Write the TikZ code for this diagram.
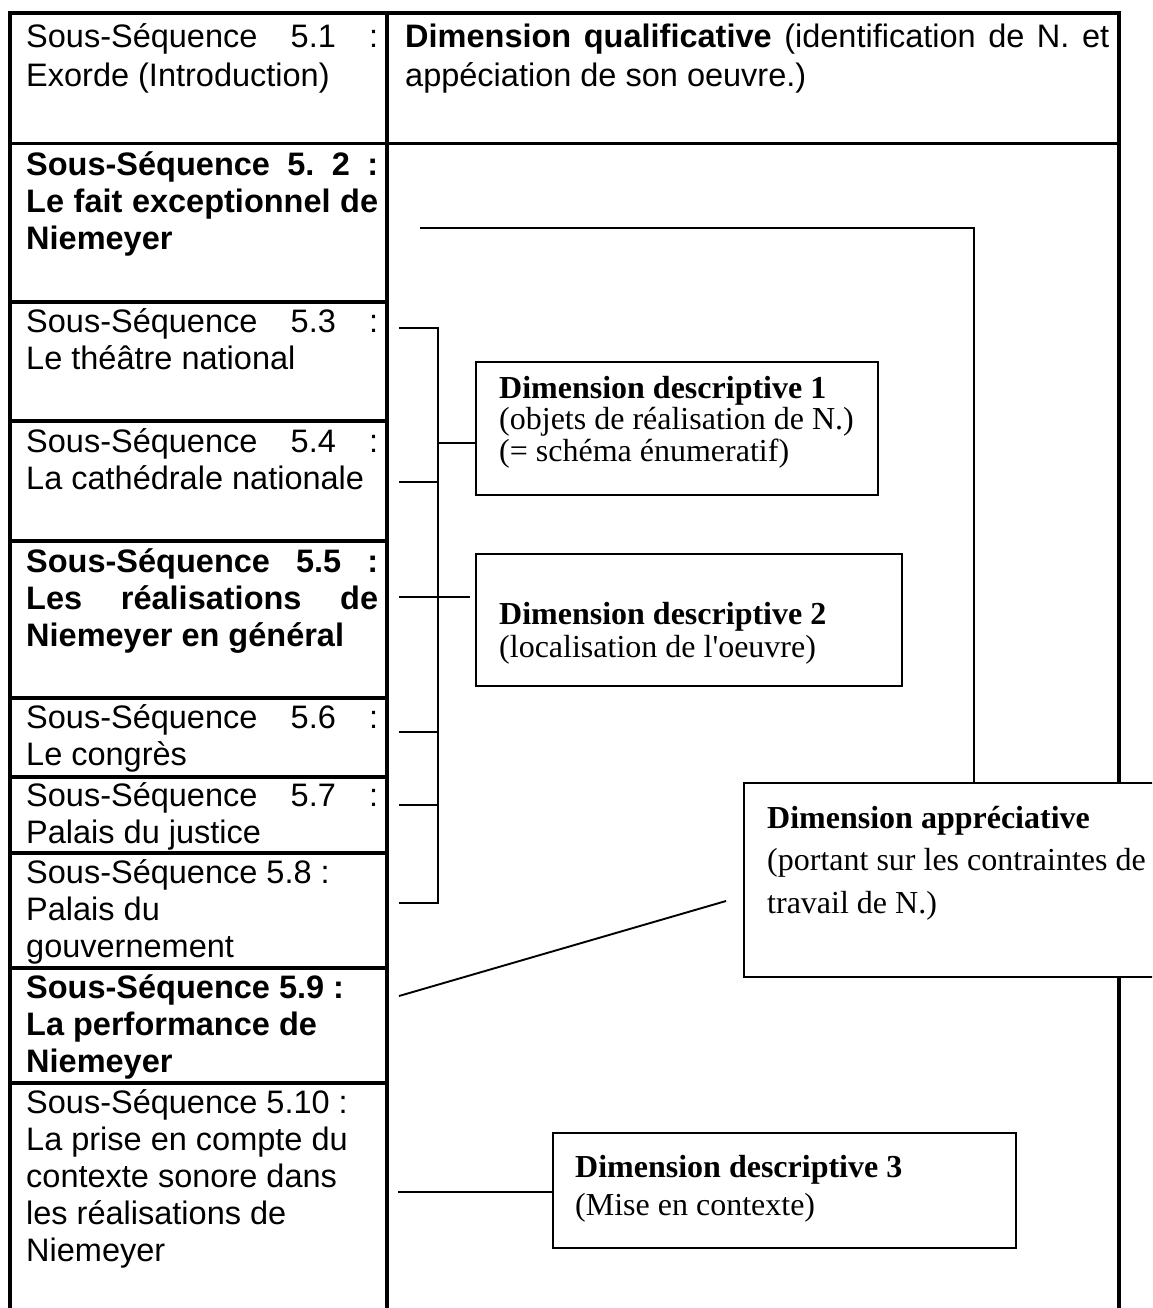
\documentclass[tikz,border=0pt]{standalone}
\usepackage{fontspec}
\setmainfont{Liberation Serif}
\newfontfamily\arialf{Liberation Sans}
\usetikzlibrary{calc}
\setlength\parindent{0pt}
\frenchspacing
\newcommand\jl[2][352pt]{\makebox[#1][s]{#2}}
\newcommand\firstl{\spaceskip=0pt\xspaceskip=0pt\rule{0pt}{30pt}}
\tikzset{
  tabline/.style={line width=3.2pt},
  conn/.style={line width=1.9pt},
  dbox/.style={draw, line width=1.9pt, fill=white, inner sep=0pt, outer sep=0pt, anchor=north west},
  ltext/.style={anchor=north west, inner sep=0pt, text width=352pt, align=left,
    font=\arialf\fontsize{32.5}{37}\selectfont},
  btext/.style={anchor=north west, inner sep=0pt, text width=420pt, align=left,
    font=\fontsize{32}{31.5}\selectfont}
}
\begin{document}
\begin{tikzpicture}[x=1pt,y=-1pt]
\useasboundingbox (0,0) rectangle (1152,1308);
\clip (0,0) rectangle (1152,1308);
\fill[white] (0,0) rectangle (1152,1308);

% table frame
\draw[tabline] (10,13) -- (1119,13);
\draw[tabline] (10,11.4) -- (10,1312);
\draw[tabline] (387,11.4) -- (387,1312);
\draw[tabline] (1119,11.4) -- (1119,1312);
\draw[tabline] (10,143.5) -- (1119,143.5);
\foreach \yy in {302,421,541,698,777,853,968,1083}
  \draw[tabline] (10,\yy) -- (387,\yy);

% left column texts
\node[ltext, font=\arialf\fontsize{32.5}{39}\selectfont] (r1) at (26,17)
  {\firstl\jl{Sous-Séquence 5.1 :}\\Exorde (Introduction)};
\node[ltext, font=\arialf\bfseries\fontsize{32.5}{37}\selectfont] (r2) at (26,145)
  {\firstl\jl{Sous-Séquence 5. 2 :}\\\jl{Le fait exceptionnel de}\\Niemeyer};
\node[ltext] (r3) at (26,302)
  {\firstl\jl{Sous-Séquence 5.3 :}\\Le théâtre national};
\node[ltext] (r4) at (26,422)
  {\firstl\jl{Sous-Séquence 5.4 :}\\La cathédrale nationale};
\node[ltext, font=\arialf\bfseries\fontsize{32.5}{37}\selectfont] (r5) at (26,542)
  {\firstl\jl{Sous-Séquence 5.5 :}\\\jl{Les réalisations de}\\Niemeyer en général};
\node[ltext] (r6) at (26,698)
  {\firstl\jl{Sous-Séquence 5.6 :}\\Le congrès};
\node[ltext] (r7) at (26,776)
  {\firstl\jl{Sous-Séquence 5.7 :}\\Palais du justice};
\node[ltext] (r8) at (26,853)
  {\firstl Sous-Séquence 5.8 :\\Palais du\\gouvernement};
\node[ltext, font=\arialf\bfseries\fontsize{32.5}{37}\selectfont] (r9) at (26,968)
  {\firstl Sous-Séquence 5.9 :\\La performance de\\Niemeyer};
\node[ltext] (r10) at (26,1083)
  {\firstl Sous-Séquence 5.10 :\\La prise en compte du\\contexte sonore dans\\les réalisations de\\Niemeyer};

% right column top text
\node[ltext, text width=704pt, font=\arialf\fontsize{32.5}{39}\selectfont] (q) at (405,17)
  {\firstl\jl[704pt]{\textbf{Dimension qualificative} (identification de N. et}\\appéciation de son oeuvre.)};

% connector coordinates
\coordinate (s2) at (420,228);
\coordinate (k) at (974,228);
\coordinate (t3) at (399,328);
\coordinate (t4) at (399,482);
\coordinate (t5) at (399,597);
\coordinate (t5e) at (470,597);
\coordinate (t6) at (399,732);
\coordinate (t7) at (399,805);
\coordinate (t8) at (399,903);
\coordinate (bt) at (438,328);
\coordinate (bb) at (438,903);
\coordinate (j1) at (438,443);
\coordinate (s9) at (399,996);
\coordinate (ae) at (726,901);
\coordinate (s10) at (398,1192);

% boxes (drawn as nodes)
\node[dbox, minimum width=402pt, minimum height=133pt] (d1) at (476,362) {};
\node[dbox, minimum width=426pt, minimum height=132pt] (d2) at (476,554) {};
\node[dbox, minimum width=463pt, minimum height=115pt] (d3) at (553,1133) {};

% connectors
\draw[conn] (s2) -- (k) -- (k |- 0,783);
\draw[conn] (t3) -- (bt) -- (bb) -- (t8);
\draw[conn] (t4) -- (t4 -| bt);
\draw[conn] (t6) -- (t6 -| bt);
\draw[conn] (t7) -- (t7 -| bt);
\draw[conn] (t5) -- (t5e);
\draw[conn] (j1) -- (j1 -| d1.west);
\draw[conn] (s9) -- (ae);
\draw[conn] (s10) -- (s10 -| d3.west);

% appreciative box on top (covers right border)
\node[dbox, minimum width=420pt, minimum height=194pt] (da) at (744,783) {};

% box texts
\node[btext] (d1t) at (499,368)
  {\firstl\textbf{Dimension descriptive 1}\\(objets de réalisation de N.)\\(= schéma énumeratif)};
\node[btext, font=\fontsize{32}{33}\selectfont] (d2t) at (499,594)
  {\firstl\textbf{Dimension descriptive 2}\\(localisation de l\textquotesingle oeuvre)};
\node[btext, font=\fontsize{32}{42.5}\selectfont] (dat) at (767,798)
  {\firstl\textbf{Dimension appréciative}\\(portant sur les contraintes de\\travail de N.)};
\node[btext, font=\fontsize{32}{38}\selectfont] (d3t) at (575,1147)
  {\firstl\textbf{Dimension descriptive 3}\\(Mise en contexte)};
\end{tikzpicture}
\end{document}
